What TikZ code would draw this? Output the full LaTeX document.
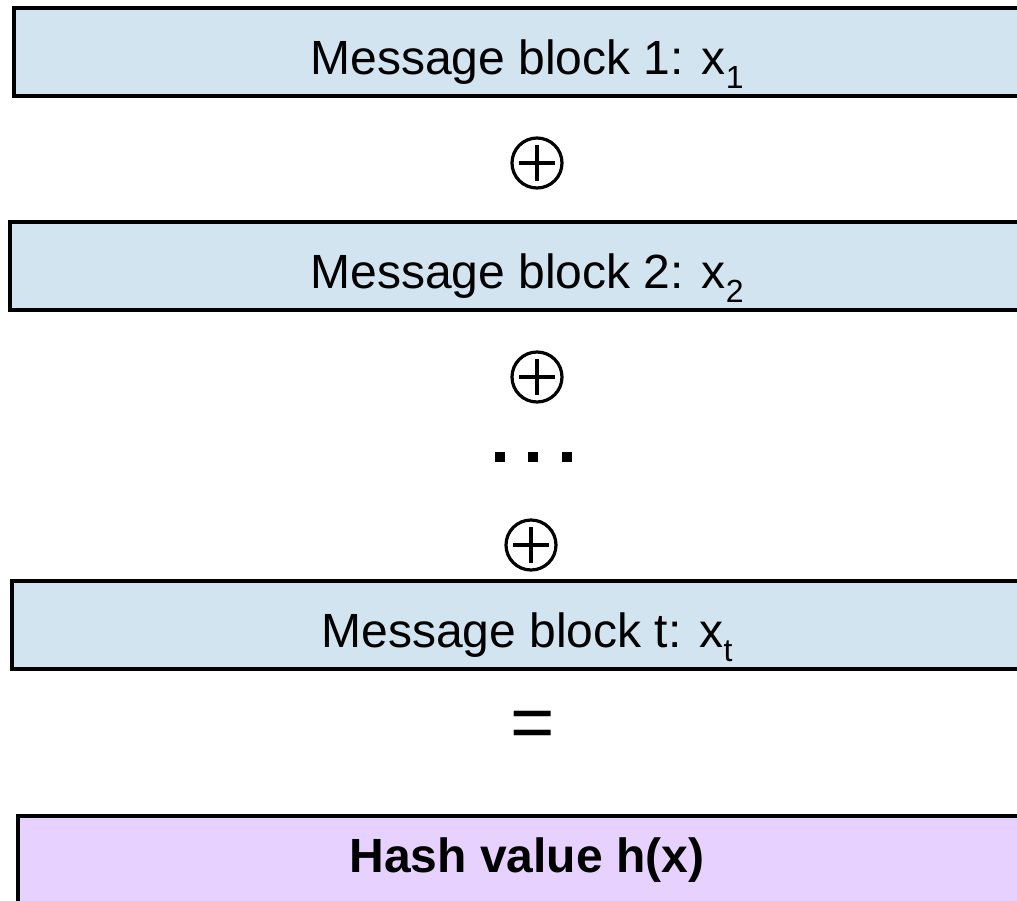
\documentclass[tikz,border=0pt]{standalone}
\usepackage{fontspec}
\setmainfont{Liberation Sans}
\usetikzlibrary{positioning}

\definecolor{msgblue}{RGB}{209,228,239}
\definecolor{hashlilac}{RGB}{230,209,255}

\newcommand{\msub}[1]{\raisebox{-0.3em}{\fontsize{32}{32}\selectfont #1}}

\tikzset{
  msgblock/.style={draw=black, line width=3.5pt, fill=msgblue, minimum height=88pt,
    inner sep=0pt, text height=44pt, text depth=0pt, font=\fontsize{48}{56}\selectfont},
  hashblock/.style={msgblock, fill=hashlilac, text height=24pt, font=\fontsize{48}{56}\selectfont\bfseries},
  oplus/.style={circle, draw=black, line width=3.2pt, minimum size=50pt, inner sep=0pt},
}

\begin{document}
\begin{tikzpicture}[x=1pt,y=-1pt]
\useasboundingbox (0,0) rectangle (1017,900);
\clip (0,0) rectangle (1017,900);

% message blocks
\node[msgblock, minimum width=1026pt] (block1) at (527,52) {Message block 1: x\msub{1}};
\node[oplus] (plus1) at (537,163) {};
\node[msgblock, minimum width=1034pt] (block2) at (527,266) {Message block 2: x\msub{2}};
\node[oplus] (plus2) at (537,377) {};

% dots
\foreach \xd in {500,533,567} {
\fill (\xd-5,452) rectangle (\xd+5,462);
}

\node[oplus] (plus3) at (531,545) {};
\node[msgblock, minimum width=1030pt] (blockt) at (527,625) {Message block t: x\msub{t}};

% crosses of the xor signs
\foreach \p in {plus1,plus2,plus3} {
\draw[line width=3.2pt] ([xshift=-18pt]\p.center)--([xshift=18pt]\p.center);
\draw[line width=3.2pt] ([yshift=-18pt]\p.center)--([yshift=18pt]\p.center);
}

% result
\node[font=\fontsize{76}{80}\selectfont, inner sep=0pt] (equal) at (533,730) {=};
\node[hashblock, minimum width=1018pt] (hash) at (527,860) {Hash value h(x)};

\end{tikzpicture}
\end{document}
